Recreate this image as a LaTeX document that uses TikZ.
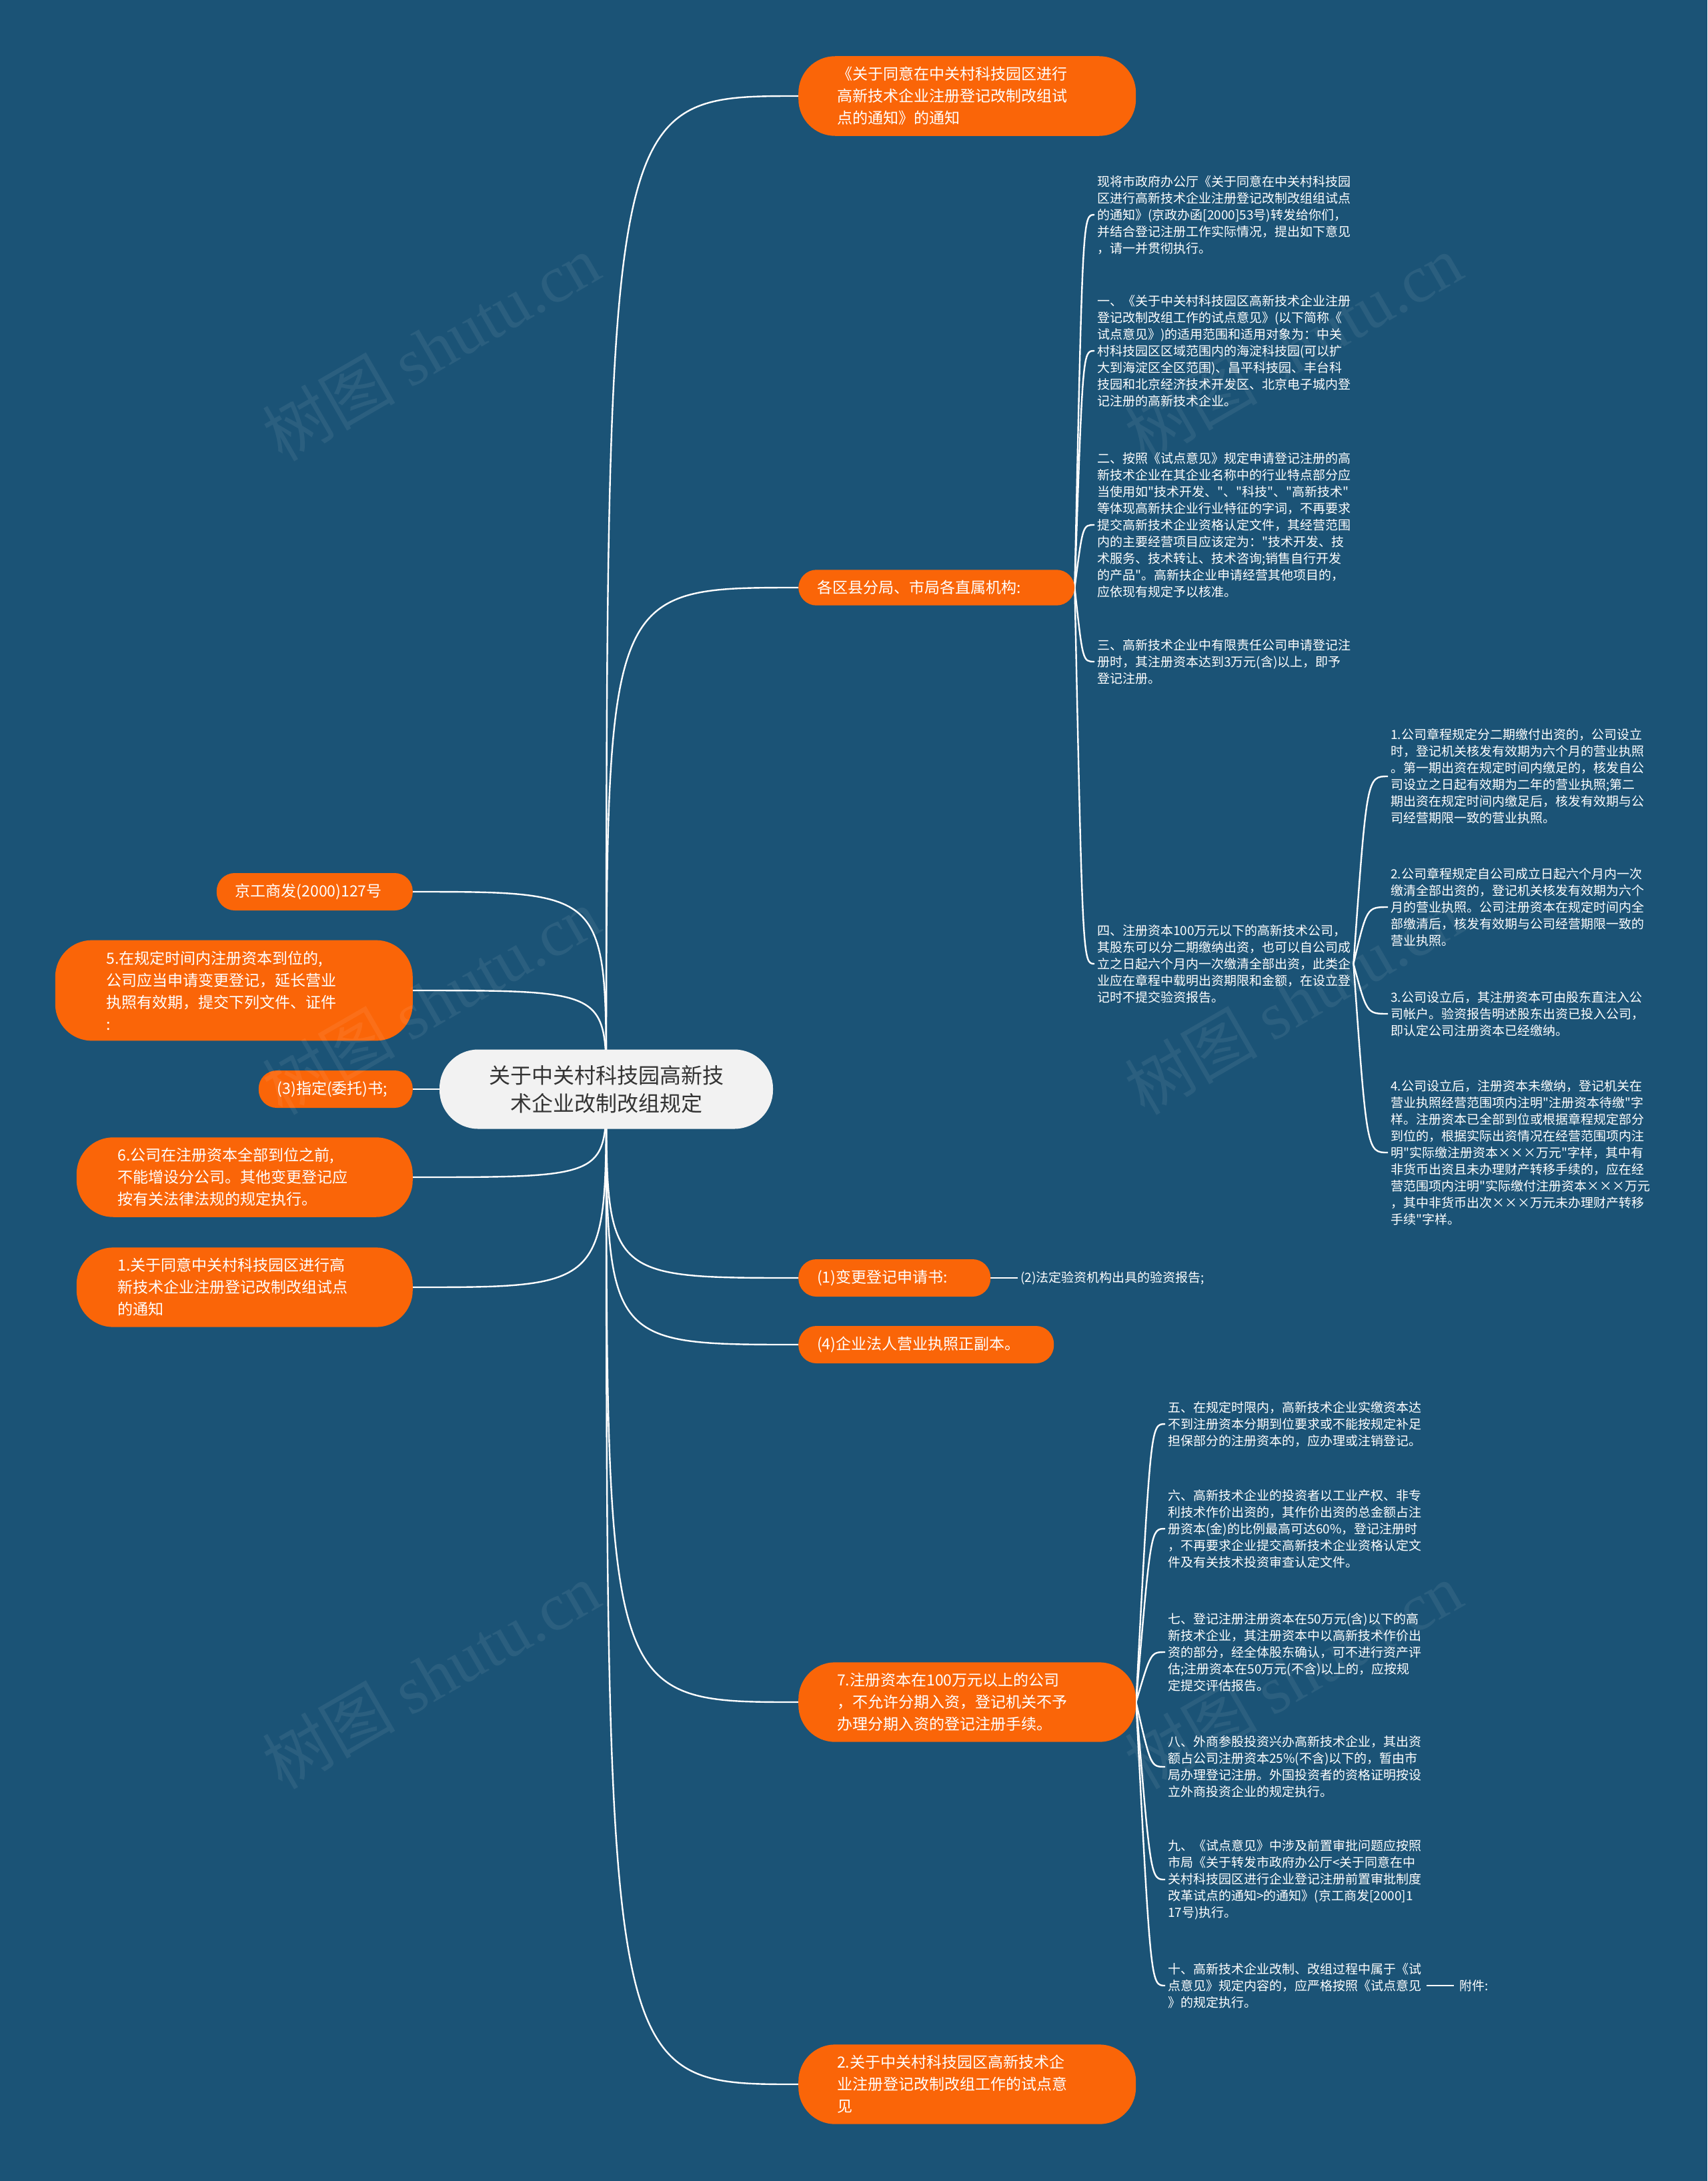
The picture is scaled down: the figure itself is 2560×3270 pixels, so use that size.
\documentclass[tikz,border=0pt]{standalone}
\usepackage{fontspec}
\setmainfont{Noto Sans CJK SC}
\newfontfamily\mapfont{Noto Sans CJK SC}
\newfontfamily\markfont{Liberation Serif}
\usetikzlibrary{backgrounds}
\definecolor{deepblue}{HTML}{1B5376}
\definecolor{maporange}{HTML}{FA6508}
\definecolor{rootgray}{HTML}{F2F2F2}
\pgfdeclarelayer{links}
\pgfsetlayers{background,links,main}
\begin{document}
\begin{tikzpicture}[x=1pt,y=-1pt,
	link/.style={draw=white,line width=2.4pt},
	rootnode/.style={fill=rootgray,text=black!80,rounded corners=58pt,minimum width=500pt,minimum height=119pt,align=center,font=\mapfont\fontsize{32}{42}\selectfont},
	topic/.style={fill=maporange,text=white,rounded corners=27pt,inner xsep=28pt,inner ysep=16pt,align=left,font=\mapfont\fontsize{23}{33}\selectfont},
	block/.style={topic,rounded corners=55pt,inner xsep=58pt,text width=390pt},
	memo/.style={text=white,inner sep=4pt,align=left,anchor=west,font=\mapfont\fontsize{19}{25}\selectfont},
	wmark/.style={text=white,opacity=0.07,rotate=30,font=\mapfont\fontsize{100}{100}\selectfont}]
\useasboundingbox (0,0) rectangle (2560,3270);
\begin{pgfonlayer}{background}
\fill[deepblue] (0,0) rectangle (2560,3270);
\end{pgfonlayer}
\node[rootnode] (root) at (909,1633) {关于中关村科技园高新技\\术企业改制改组规定};
\node[block,anchor=west] (n1) at (1197,144) {《关于同意在中关村科技园区进行\\高新技术企业注册登记改制改组试\\点的通知》的通知};
\node[topic,anchor=west,text width=358pt] (n2) at (1197,881) {各区县分局、市局各直属机构:};
\node[topic,anchor=west,text width=232pt] (n3) at (1197,1916) {(1)变更登记申请书:};
\node[topic,anchor=west,text width=327pt] (n4) at (1197,2016) {(4)企业法人营业执照正副本。};
\node[block,anchor=west] (n5) at (1197,2552) {7.注册资本在100万元以上的公司\\，不允许分期入资，登记机关不予\\办理分期入资的登记注册手续。};
\node[block,anchor=west] (n6) at (1197,3125) {2.关于中关村科技园区高新技术企\\业注册登记改制改组工作的试点意\\见};
\node[topic,anchor=east,text width=238pt] (l1) at (619,1337) {京工商发(2000)127号};
\node[block,anchor=east,inner xsep=77pt,text width=382pt] (l2) at (619,1485) {5.在规定时间内注册资本到位的,\\公司应当申请变更登记，延长营业\\执照有效期，提交下列文件、证件\\:};
\node[topic,anchor=east,text width=175pt] (l3) at (619,1633) {(3)指定(委托)书;};
\node[block,anchor=east,inner xsep=62pt,text width=380pt] (l4) at (619,1765) {6.公司在注册资本全部到位之前,\\不能增设分公司。其他变更登记应\\按有关法律法规的规定执行。};
\node[block,anchor=east,inner xsep=62pt,text width=380pt] (l5) at (619,1930) {1.关于同意中关村科技园区进行高\\新技术企业注册登记改制改组试点\\的通知};
\node[memo] (p0) at (1641,322) {现将市政府办公厅《关于同意在中关村科技园\\区进行高新技术企业注册登记改制改组组试点\\的通知》(京政办函[2000]53号)转发给你们，\\并结合登记注册工作实际情况，提出如下意见\\，请一并贯彻执行。};
\node[memo] (p1) at (1641,526) {一、《关于中关村科技园区高新技术企业注册\\登记改制改组工作的试点意见》(以下简称《\\试点意见》)的适用范围和适用对象为：中关\\村科技园区区域范围内的海淀科技园(可以扩\\大到海淀区全区范围)、昌平科技园、丰台科\\技园和北京经济技术开发区、北京电子城内登\\记注册的高新技术企业。};
\node[memo] (p2) at (1641,787) {二、按照《试点意见》规定申请登记注册的高\\新技术企业在其企业名称中的行业特点部分应\\当使用如"技术开发、"、"科技"、"高新技术"\\等体现高新扶企业行业特征的字词，不再要求\\提交高新技术企业资格认定文件，其经营范围\\内的主要经营项目应该定为："技术开发、技\\术服务、技术转让、技术咨询;销售自行开发\\的产品"。高新扶企业申请经营其他项目的，\\应依现有规定予以核准。};
\node[memo] (p3) at (1641,992) {三、高新技术企业中有限责任公司申请登记注\\册时，其注册资本达到3万元(含)以上，即予\\登记注册。};
\node[memo] (p4) at (1641,1445) {四、注册资本100万元以下的高新技术公司，\\其股东可以分二期缴纳出资，也可以自公司成\\立之日起六个月内一次缴清全部出资，此类企\\业应在章程中载明出资期限和金额，在设立登\\记时不提交验资报告。};
\node[memo] (q1) at (2081,1164) {1.公司章程规定分二期缴付出资的，公司设立\\时，登记机关核发有效期为六个月的营业执照\\。第一期出资在规定时间内缴足的，核发自公\\司设立之日起有效期为二年的营业执照;第二\\期出资在规定时间内缴足后，核发有效期与公\\司经营期限一致的营业执照。};
\node[memo] (q2) at (2081,1360) {2.公司章程规定自公司成立日起六个月内一次\\缴清全部出资的，登记机关核发有效期为六个\\月的营业执照。公司注册资本在规定时间内全\\部缴清后，核发有效期与公司经营期限一致的\\营业执照。};
\node[memo] (q3) at (2081,1520) {3.公司设立后，其注册资本可由股东直注入公\\司帐户。验资报告明述股东出资已投入公司，\\即认定公司注册资本已经缴纳。};
\node[memo] (q4) at (2081,1728) {4.公司设立后，注册资本未缴纳，登记机关在\\营业执照经营范围项内注明"注册资本待缴"字\\样。注册资本已全部到位或根据章程规定部分\\到位的，根据实际出资情况在经营范围项内注\\明"实际缴注册资本×××万元"字样，其中有\\非货币出资且未办理财产转移手续的，应在经\\营范围项内注明"实际缴付注册资本×××万元\\，其中非货币出次×××万元未办理财产转移\\手续"字样。};
\node[memo] (f2) at (1526,1916) {(2)法定验资机构出具的验资报告;};
\node[memo] (r5) at (1747,2135) {五、在规定时限内，高新技术企业实缴资本达\\不到注册资本分期到位要求或不能按规定补足\\担保部分的注册资本的，应办理或注销登记。};
\node[memo] (r6) at (1747,2292) {六、高新技术企业的投资者以工业产权、非专\\利技术作价出资的，其作价出资的总金额占注\\册资本(金)的比例最高可达60\%，登记注册时\\，不再要求企业提交高新技术企业资格认定文\\件及有关技术投资审查认定文件。};
\node[memo] (r7) at (1747,2477) {七、登记注册注册资本在50万元(含)以下的高\\新技术企业，其注册资本中以高新技术作价出\\资的部分，经全体股东确认，可不进行资产评\\估;注册资本在50万元(不含)以上的，应按规\\定提交评估报告。};
\node[memo] (r8) at (1747,2649) {八、外商参股投资兴办高新技术企业，其出资\\额占公司注册资本25\%(不含)以下的，暂由市\\局办理登记注册。外国投资者的资格证明按设\\立外商投资企业的规定执行。};
\node[memo] (r9) at (1747,2818) {九、《试点意见》中涉及前置审批问题应按照\\市局《关于转发市政府办公厅<关于同意在中\\关村科技园区进行企业登记注册前置审批制度\\改革试点的通知>的通知》(京工商发[2000]1\\17号)执行。};
\node[memo] (r10) at (1747,2977) {十、高新技术企业改制、改组过程中属于《试\\点意见》规定内容的，应严格按照《试点意见\\》的规定执行。};
\node[memo] (fj) at (2184,2977) {附件:};
\begin{pgfonlayer}{links}
\foreach \t in {n1,n2,n3,n4,n5,n6}
	\draw[link] (root.center) .. controls (root.center |- \t.west) and (root.center |- \t.west) .. (\t.west);
\foreach \t in {l1,l2,l3,l4,l5}
	\draw[link] (root.center) .. controls (root.center |- \t.east) and (root.center |- \t.east) .. (\t.east);
\coordinate (n2b) at ([xshift=12pt]n2.east);
\foreach \t in {p0,p1,p2,p3,p4}
	\draw[link] (n2.east) .. controls (n2b |- \t.west) and (n2b |- \t.west) .. (\t.west);
\coordinate (p4b) at ([xshift=20pt]p4.east);
\foreach \t in {q1,q2,q3,q4}
	\draw[link] (p4.east) .. controls (p4b |- \t.west) and (p4b |- \t.west) .. (\t.west);
\coordinate (n5b) at ([xshift=22pt]n5.east);
\foreach \t in {r5,r6,r7,r8,r9,r10}
	\draw[link] (n5.east) .. controls (n5b |- \t.west) and (n5b |- \t.west) .. (\t.west);
\draw[link] (n3.east) -- (f2.west);
\draw[link] ([xshift=4pt]r10.east) -- ([xshift=-4pt]fj.west);
\end{pgfonlayer}
\foreach \x/\y in {646/521,1939/521,646/1501,1939/1501,646/2512,1939/2512}
	\node[wmark] at (\x,\y) {树图 {\markfont shutu.cn}};
\end{tikzpicture}
\end{document}
